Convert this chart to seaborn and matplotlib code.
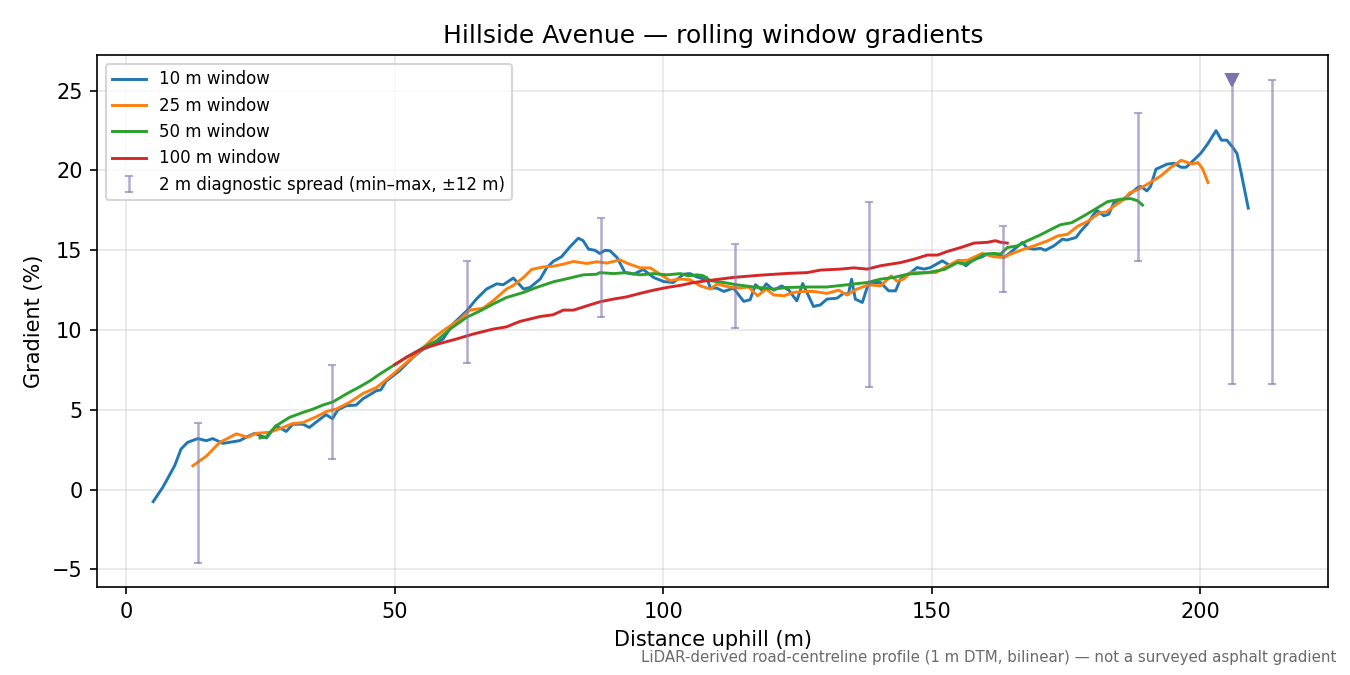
import matplotlib
matplotlib.use("Agg")
from matplotlib import pyplot as plt
import numpy as np
import pandas as pd
import seaborn as sns

# distance uphill (m) / gradient (%)
dist_10 = [5, 6.8, 9.0, 10.2, 11.4, 13.3, 14.9, 16.1, 18, 21.1, 22.3, 23.9, 26.1, 27.9, 29.8,
           31.0, 32.9, 34.1, 36.0, 37.2, 38.4, 39.4, 41.0, 42.8, 44.1, 46.6, 47.4, 48.4, 50.9,
           53.4, 55.3, 57.2, 59.0, 60.9, 63.4, 65.2, 67.1, 69.0, 70.2, 72.1, 74.0, 75.2, 77.1,
           78.3, 79.5, 81.1, 82.6, 84.2, 85.1, 86.1, 87.3, 88.2, 89.2, 90.1, 91.4, 92.9, 94.5,
           96.3, 98.2, 100.1, 101.9, 103.8, 105.0, 106.3, 107.5, 108.1, 108.8, 110.0, 111.3,
           113.1, 115.0, 116.2, 117.2, 118.4, 119.2, 120.6, 122.1, 123.4, 124.9, 126.0, 128.0,
           129.3, 130.5, 132.4, 133.6, 134.5, 135.1, 135.8, 137.1, 138.3, 140.5, 142.0, 143.3,
           144.2, 146.1, 147.3, 148.6, 149.8, 152.0, 153.5, 155.1, 156.4, 157.9, 159.1, 160.4,
           161.9, 163.5, 164.7, 166.9, 167.8, 169.1, 170.3, 171.2, 172.8, 174.4, 175.2, 176.9,
           177.8, 179.0, 180.0, 180.8, 182.1, 183.0, 184.0, 185.3, 186.5, 188.4, 189.0, 190.1,
           190.8, 191.8, 193.9, 195.2, 196.5, 197.4, 199.0, 200.2, 201.4, 203.0, 204.0, 205.0,
           206.0, 206.9, 207.6, 209.0]
grad_10 = [-0.75, 0.15, 1.5, 2.55, 2.96, 3.2, 3.07, 3.2, 2.9, 3.07, 3.28, 3.53, 3.24, 4.0, 3.65,
           4.1, 4.1, 3.9, 4.4, 4.7, 4.45, 5.0, 5.26, 5.3, 5.7, 6.2, 6.25, 6.8, 7.45,
           8.3, 8.8, 9.08, 9.44, 10.4, 11.2, 11.94, 12.57, 12.9, 12.84, 13.26, 12.57, 12.67, 13.2,
           13.9, 14.3, 14.6, 15.2, 15.76, 15.6, 15.07, 15.0, 14.8, 15.0, 14.97, 14.55, 13.6, 13.5,
           13.8, 13.3, 13.04, 12.98, 13.5, 13.54, 13.33, 13.2, 13.3, 12.63, 12.63, 12.42,
           12.63, 11.8, 11.9, 12.84, 12.5, 12.9, 12.5, 12.77, 12.5, 11.83, 12.92, 11.48,
           11.58, 11.94, 12.0, 12.3, 12.25, 13.19, 11.94, 11.73, 12.98, 12.98, 12.46, 12.46,
           13.19, 13.6, 13.92, 13.82, 13.92, 14.34, 14.03, 14.38, 14.03, 14.44, 14.55, 14.76,
           14.76, 14.55, 14.86, 15.49, 15.14, 15.07, 15.12, 15.0, 15.28, 15.7, 15.64, 15.8,
           16.2, 16.64, 17.16, 17.5, 17.16, 17.26, 17.99, 18.1, 18.4, 18.93, 19.0, 18.72,
           19.0, 20.08, 20.4, 20.45, 20.2, 20.2, 20.7, 21.1, 21.65, 22.5, 21.9, 21.9,
           21.5, 21.06, 19.97, 17.64]

dist_25 = [12.4, 14.9, 17.4, 20.5, 22.6, 24.2, 26.7, 29.2, 31.0, 32.9, 35.4, 37.3, 39.1, 41.6,
           44.1, 46.6, 49.7, 52.2, 54.7, 57.2, 59.6, 62.1, 64.0, 66.5, 68.3, 70.8, 72.1, 74.0,
           75.5, 77.7, 79.5, 81.4, 83.3, 85.8, 87.6, 89.5, 92.0, 93.2, 95.7, 97.6, 99.4, 101.3,
           103.2, 105.0, 106.9, 108.8, 110.0, 112.4, 114.3, 115.9, 117.6, 119.2, 120.6, 122.5,
           124.3, 126.2, 128.0, 130.5, 132.7, 134.2, 136.1, 138.3, 140.5, 142.5, 143.6, 144.8,
           146.1, 149.2, 150.8, 152.4, 154.8, 156.7, 159.4, 161.5, 163.5, 164.7, 167.2, 169.1,
           171.6, 173.5, 175.3, 177.2, 179.0, 181.4, 182.6, 184.0, 185.9, 186.9, 188.4, 190.2,
           192.7, 194.6, 196.5, 198.6, 199.6, 200.5, 201.5]
grad_25 = [1.5, 2.1, 2.96, 3.5, 3.28, 3.53, 3.6, 3.9, 4.15, 4.2, 4.57, 4.9, 5.05, 5.47,
           6.03, 6.4, 7.24, 7.97, 8.7, 9.5, 10.1, 10.65, 11.25, 11.38, 11.83, 12.57, 12.8, 13.3,
           13.8, 13.96, 14.0, 14.13, 14.3, 14.17, 14.28, 14.2, 14.4, 14.2, 13.9, 13.9, 13.5, 13.1,
           13.2, 13.15, 12.77, 12.57, 12.88, 12.7, 12.63, 12.7, 12.15, 12.57, 12.2, 12.15,
           12.36, 12.42, 12.42, 12.3, 12.5, 12.2, 12.57, 12.84, 12.77, 13.4, 13.05, 13.2,
           13.6, 13.6, 13.6, 13.92, 14.34, 14.38, 14.8, 14.6, 14.55, 14.76, 15.07, 15.28,
           15.59, 15.9, 16.0, 16.5, 16.8, 17.36, 17.4, 17.78, 18.2, 18.6, 18.8, 19.14,
           19.66, 20.2, 20.64, 20.4, 20.5, 20.1, 19.24]

dist_50 = [24.9, 26.0, 27.9, 30.4, 32.9, 34.8, 36.6, 38.5, 41.0, 43.5, 45.3, 47.2, 49.7, 52.2,
           55.3, 57.8, 60.3, 63.4, 65.9, 68.3, 70.8, 74.0, 76.4, 79.5, 82.6, 85.1, 87.6, 88.2,
           90.7, 93.2, 95.7, 98.2, 100.7, 103.2, 104.7, 106.3, 107.5, 108.8, 111.3, 113.7, 116.9,
           120.6, 123.1, 126.8, 130.5, 134.3, 138.0, 140.5, 143.0, 145.5, 149.2, 152.4, 154.8,
           156.0, 157.9, 159.8, 161.7, 162.9, 164.1, 166.0, 167.8, 170.3, 172.2, 174.0, 176.1,
           178.4, 181.0, 182.8, 185.3, 187.1, 188.4, 189.3]
grad_50 = [3.24, 3.3, 4.0, 4.53, 4.84, 5.05, 5.3, 5.5, 6.0, 6.45, 6.8, 7.24, 7.77, 8.3,
           8.9, 9.33, 10.06, 10.8, 11.2, 11.63, 12.04, 12.36, 12.67, 13.02, 13.26, 13.46, 13.5, 13.6,
           13.54, 13.6, 13.46, 13.54, 13.46, 13.54, 13.4, 13.46, 13.4, 13.09, 12.98, 12.84, 12.7,
           12.57, 12.67, 12.7, 12.7, 12.84, 12.98, 13.19, 13.3, 13.5, 13.6, 13.8, 14.23,
           14.13, 14.38, 14.76, 14.8, 14.76, 15.17, 15.28, 15.59, 15.97, 16.3, 16.6, 16.73,
           17.16, 17.68, 18.05, 18.2, 18.24, 18.1, 17.83]

dist_100 = [50.0, 52.2, 55.3, 58.4, 61.5, 64.6, 68.3, 70.8, 73.3, 77.1, 79.5, 81.4, 83.3, 85.8,
            88.2, 90.7, 93.2, 95.7, 98.2, 100.7, 103.2, 105.7, 108.1, 113.1, 118.1, 123.1, 126.8,
            129.3, 133.0, 135.5, 138.0, 140.5, 144.2, 146.7, 149.2, 151.1, 152.9, 155.4, 157.9,
            160.4, 161.9, 162.9, 164.1]
grad_100 = [7.83, 8.3, 8.85, 9.16, 9.44, 9.75, 10.06, 10.2, 10.54, 10.85, 10.96, 11.25, 11.25, 11.52,
            11.77, 11.94, 12.08, 12.3, 12.5, 12.67, 12.8, 12.98, 13.09, 13.3, 13.44, 13.55, 13.6,
            13.76, 13.82, 13.9, 13.82, 14.03, 14.23, 14.44, 14.7, 14.7, 14.92, 15.17, 15.45,
            15.5, 15.6, 15.5, 15.45]

# 2 m diagnostic spread (min / max over +-12 m)
spread_x = [13.4, 38.4, 63.4, 88.4, 113.4, 138.4, 163.4, 188.4, 206.0, 213.5]
spread_min = [-4.6, 1.9, 7.95, 10.8, 10.1, 6.45, 12.4, 14.3, 6.6, 6.6]
spread_max = [4.2, 7.8, 14.3, 17.0, 15.4, 18.0, 16.5, 23.6, 25.7, 25.7]
steepest_x, steepest_y = 206.0, 25.7

series = [
    ("10 m window", dist_10, grad_10, "tab:blue"),
    ("25 m window", dist_25, grad_25, "tab:orange"),
    ("50 m window", dist_50, grad_50, "tab:green"),
    ("100 m window", dist_100, grad_100, "tab:red"),
]

fig, ax = plt.subplots(figsize=(9, 4.5), dpi=150)

for label, xs, ys, col in series:
    df = pd.DataFrame({"x": xs, "y": ys})
    sns.lineplot(data=df, x="x", y="y", ax=ax, color=col, label=label,
                 linewidth=1.4, estimator=None, sort=False)

lo = np.array(spread_min)
hi = np.array(spread_max)
ax.errorbar(spread_x, lo, yerr=[np.zeros_like(lo), hi - lo], fmt="none",
            ecolor="#8073ac", alpha=0.6, elinewidth=1.2, capsize=2,
            label="2 m diagnostic spread (min\u2013max, \u00b112 m)")
ax.plot([steepest_x], [steepest_y], marker="v", color="#8073ac", markersize=6,
        linestyle="none")

ax.grid(True, alpha=0.3)
ax.set_title("Hillside Avenue \u2014 rolling window gradients", fontsize=12)
ax.set_xlabel("Distance uphill (m)")
ax.set_ylabel("Gradient (%)")
ax.legend(loc="upper left", fontsize=8)

fig.text(0.99, 0.015,
         "LiDAR-derived road-centreline profile (1 m DTM, bilinear) \u2014 not a surveyed asphalt gradient",
         ha="right", va="bottom", fontsize=7.2, color="dimgray")

plt.subplots_adjust(left=0.072, right=0.984, top=0.918, bottom=0.130)
plt.savefig("out.png", dpi=150)
